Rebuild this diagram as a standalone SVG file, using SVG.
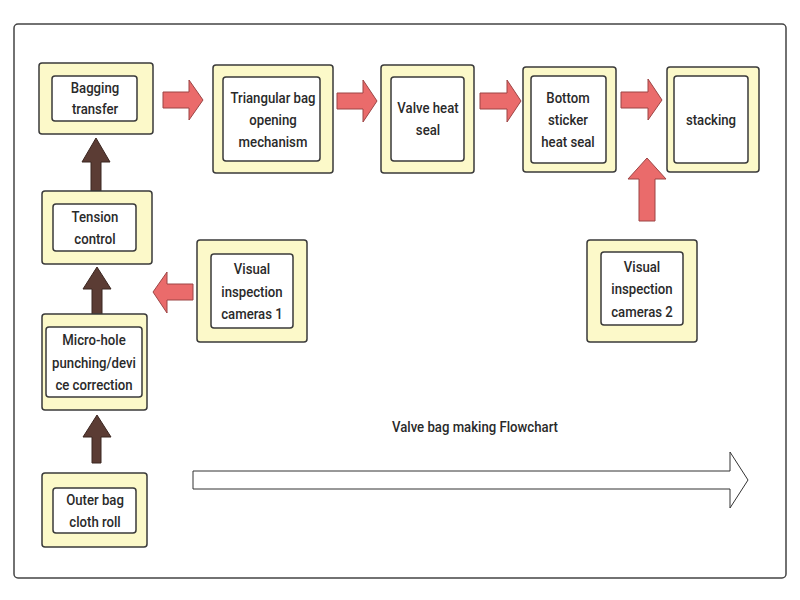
<svg xmlns="http://www.w3.org/2000/svg" width="800" height="600" viewBox="0 0 800 600">
<defs>
<style>
.outer{fill:#FCF9C9;stroke:#3a3a3a;stroke-width:1.5}
.inner{fill:#ffffff;stroke:#3a3a3a;stroke-width:1.5}
.t{font-family:Roboto,"Liberation Sans",sans-serif;font-weight:500;font-size:15.5px;fill:#2a2a2a;text-anchor:middle;dominant-baseline:central;transform-box:fill-box;transform-origin:center;transform:scaleX(0.85)}
.red{fill:#EA6B6B;stroke:#9c4545;stroke-width:1}
.brown{fill:#5B3C34;stroke:#3b2621;stroke-width:1}
</style>
</defs>
<rect x="0" y="0" width="800" height="600" fill="#ffffff"/>
<rect x="14" y="24" width="772" height="554" rx="4" fill="#ffffff" stroke="#444" stroke-width="1.5"/>

<g id="connectors">
<polygon class="red" points="163,92 189,92 189,80 203,100 189,120 189,108 163,108"/>
<polygon class="red" points="337,93 363,93 363,80 377,101 363,122 363,109 337,109"/>
<polygon class="red" points="480,93 507,93 507,80 521,101 507,122 507,109 480,109"/>
<polygon class="red" points="621,92 648,92 648,79 662,100 648,120 648,108 621,108"/>
<polygon class="red" points="639,221 639,179 628,179 647,158 666,179 655,179 655,221"/>
<polygon class="red" points="193,284 167,284 167,272 153,292 167,313 167,300 193,300"/>
<polygon class="brown" points="91,191 91,162 82,162 96,138 110,162 101,162 101,191"/>
<polygon class="brown" points="92,315 92,289 83,289 97,267 111,289 102,289 102,315"/>
<polygon class="brown" points="92,463 92,437 83,437 97,415 111,437 101,437 101,463"/>
<polygon points="193,471 730,471 730,452 748,480 730,508 730,489 193,489" fill="#ffffff" stroke="#333" stroke-width="1"/>
</g>

<g id="bagging-transfer">
<rect class="outer" x="39" y="63" width="114" height="71" rx="3"/>
<rect class="inner" x="52" y="76" width="85" height="45" rx="3"/>
<text class="t" x="95" y="88">Bagging</text>
<text class="t" x="95" y="109">transfer</text>
</g>

<g id="triangular-bag">
<rect class="outer" x="213" y="65" width="120" height="108" rx="3"/>
<rect class="inner" x="223" y="77" width="97" height="84" rx="3"/>
<text class="t" x="273" y="98">Triangular bag</text>
<text class="t" x="273" y="120">opening</text>
<text class="t" x="273" y="142">mechanism</text>
</g>

<g id="valve-heat-seal">
<rect class="outer" x="381" y="65" width="93" height="108" rx="3"/>
<rect class="inner" x="391" y="77" width="73" height="84" rx="3"/>
<text class="t" x="428" y="108">Valve heat</text>
<text class="t" x="428" y="130">seal</text>
</g>

<g id="bottom-sticker">
<rect class="outer" x="523" y="67" width="93" height="105" rx="3"/>
<rect class="inner" x="531" y="76" width="75" height="87" rx="3"/>
<text class="t" x="568" y="98">Bottom</text>
<text class="t" x="568" y="120">sticker</text>
<text class="t" x="568" y="142">heat seal</text>
</g>

<g id="stacking">
<rect class="outer" x="667" y="67" width="92" height="105" rx="3"/>
<rect class="inner" x="674" y="76" width="74" height="87" rx="3"/>
<text class="t" x="711" y="120">stacking</text>
</g>

<g id="cameras-2">
<rect class="outer" x="587" y="240" width="110" height="102" rx="3"/>
<rect class="inner" x="601" y="252" width="82" height="73" rx="3"/>
<text class="t" x="642" y="267">Visual</text>
<text class="t" x="642" y="289">inspection</text>
<text class="t" x="642" y="312">cameras 2</text>
</g>

<g id="tension-control">
<rect class="outer" x="42" y="191" width="110" height="73" rx="3"/>
<rect class="inner" x="53" y="204" width="83" height="47" rx="3"/>
<text class="t" x="95" y="217">Tension</text>
<text class="t" x="95" y="239">control</text>
</g>

<g id="cameras-1">
<rect class="outer" x="197" y="240" width="110" height="102" rx="3"/>
<rect class="inner" x="211" y="254" width="82" height="74" rx="3"/>
<text class="t" x="252" y="269">Visual</text>
<text class="t" x="252" y="292">inspection</text>
<text class="t" x="252" y="314">cameras 1</text>
</g>

<g id="micro-hole">
<rect class="outer" x="42" y="314" width="105" height="96" rx="3"/>
<rect class="inner" x="46" y="327" width="96" height="70" rx="3"/>
<text class="t" x="94" y="340">Micro-hole</text>
<text class="t" x="94" y="363">punching/devi</text>
<text class="t" x="94" y="385">ce correction</text>
</g>

<g id="outer-bag">
<rect class="outer" x="42" y="473" width="105" height="74" rx="3"/>
<rect class="inner" x="53" y="488" width="83" height="45" rx="3"/>
<text class="t" x="95" y="500">Outer bag</text>
<text class="t" x="95" y="522">cloth roll</text>
</g>

<g id="title">
<text class="t" x="475" y="427">Valve bag making Flowchart</text>
</g>
</svg>
